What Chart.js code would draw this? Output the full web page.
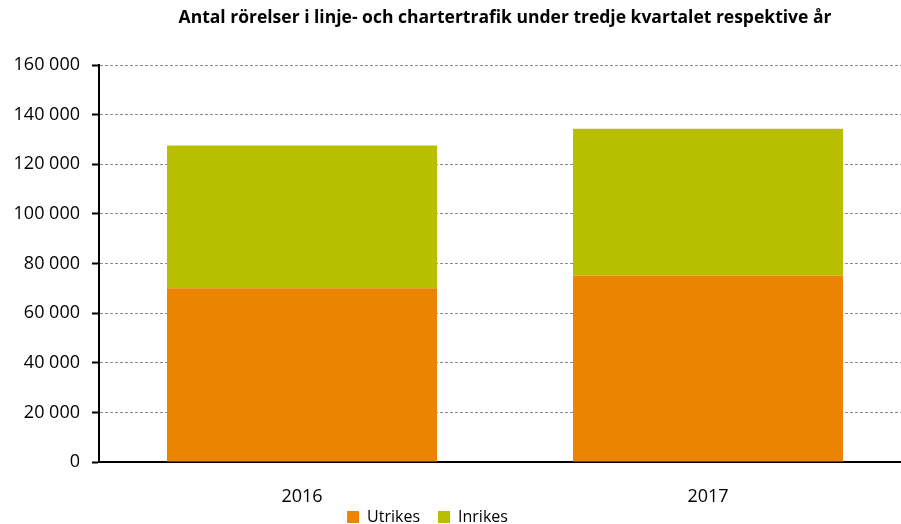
<!DOCTYPE html>
<html>
<head>
<meta charset="utf-8">
<script src="https://cdn.jsdelivr.net/npm/chart.js@4/dist/chart.umd.min.js"></script>
<style>
  html, body { margin: 0; padding: 0; background: #fff; }
  /* the original plot runs a little past the right edge, so the canvas is wider and cropped */
  #clip { width: 901px; height: 524px; overflow: hidden; }
  #wrap { width: 911px; height: 524px; }
</style>
</head>
<body>
<div id="clip"><div id="wrap"><canvas id="chart"></canvas></div></div>
<script>
// data
const years = ['2016', '2017'];
const utrikes = [70000, 75200];
const inrikes = [57600, 59100];
const yTicks = [0, 20000, 40000, 60000, 80000, 100000, 120000, 140000, 160000];

const fontFamily = "'Open Sans', 'Noto Sans', sans-serif";

function fmt(v) {
    return String(v).replace(/\B(?=(\d{3})+(?!\d))/g, ' ');
}

// fixed legend height, and the legend sits a bit left of centre
const legendTweak = {
    id: 'legendTweak',
    afterInit(chart) {
        const lg = chart.legend;
        const fit = lg.fit;
        lg.fit = function () {
            fit.call(this);
            this.height = 20;
        };
    },
    afterLayout(chart) {
        const lg = chart.legend;
        lg.left -= 28;
        lg.right -= 28;
        lg.top -= 13;
    }
};

const ctx = document.getElementById('chart').getContext('2d');
const myChart = new Chart(ctx, {
    type: 'bar',
    data: {
        labels: years,
        datasets: [
            {
                label: 'Utrikes',
                data: utrikes,
                backgroundColor: '#eb8400',
                borderWidth: 0
            },
            {
                label: 'Inrikes',
                data: inrikes,
                backgroundColor: '#b8bf00',
                borderWidth: 0
            }
        ]
    },
    plugins: [legendTweak],
    options: {
        responsive: true,
        maintainAspectRatio: false,
        animation: false,
        layout: { padding: { top: 8, right: 0, left: 0, bottom: 0 } },
        datasets: {
            bar: { barPercentage: 0.665, categoryPercentage: 1 }
        },
        plugins: {
            title: {
                display: true,
                fullSize: false,
                text: 'Antal rörelser i linje- och chartertrafik under tredje kvartalet respektive år',
                color: '#000',
                font: { family: fontFamily, size: 17.5, weight: 'bold' },
                padding: { top: 0, bottom: 36 }
            },
            legend: {
                position: 'bottom',
                labels: {
                    color: '#000',
                    font: { family: fontFamily, size: 16 },
                    boxWidth: 12,
                    boxHeight: 12,
                    padding: 18
                }
            },
            tooltip: { enabled: false }
        },
        scales: {
            x: {
                stacked: true,
                grid: { display: false },
                border: { display: true, color: '#000', width: 2 },
                afterFit(scale) {
                    scale.height = 42;
                },
                ticks: {
                    color: '#000',
                    font: { family: fontFamily, size: 18 },
                    padding: 16
                }
            },
            y: {
                stacked: true,
                min: 0,
                max: 160000,
                afterBuildTicks(scale) {
                    scale.ticks = yTicks.map(v => ({ value: v }));
                },
                afterFit(scale) {
                    scale.width = 99;
                },
                grid: {
                    color: '#8c8c8c',
                    lineWidth: 1,
                    tickColor: '#000',
                    tickWidth: 2,
                    tickLength: 7
                },
                border: { display: true, color: '#000', width: 2, dash: [3, 2] },
                ticks: {
                    color: '#000',
                    font: { family: fontFamily, size: 18 },
                    padding: 12,
                    callback: v => fmt(v)
                }
            }
        }
    }
});
</script>
</body>
</html>
